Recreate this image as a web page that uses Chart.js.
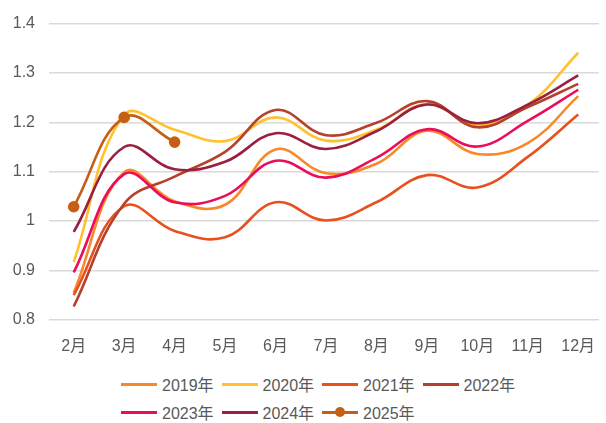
<!DOCTYPE html>
<html>
<head>
<meta charset="utf-8">
<script src="https://cdn.jsdelivr.net/npm/chart.js@4.4.1/dist/chart.umd.min.js"></script>
<style>
  html, body { margin: 0; padding: 0; background: #fff; }
  body { width: 606px; height: 423px; position: relative; overflow: hidden;
         font-family: "Liberation Sans", "Noto Sans CJK SC", sans-serif; }
  #wrap { position: absolute; left: 0; top: 0; width: 606px; height: 365px; }
  #legend { position: absolute; left: 121px; top: 373px; width: 420px;
            display: grid; grid-template-columns: repeat(4, 100.5px); row-gap: 6px; }
  .lg { display: flex; align-items: center; height: 22px; font-size: 16px; color: #595959; white-space: nowrap; }
  .lg .sw { position: relative; width: 36px; height: 3px; margin-right: 5px; flex: none; }
  .lg .sw i { position: absolute; left: 13px; top: -3.5px; width: 10px; height: 10px; border-radius: 50%; }
</style>
</head>
<body>
<div id="wrap"><canvas id="chart"></canvas></div>
<div id="legend"></div>
<script>
// ---- data ----
const months = ['2月', '3月', '4月', '5月', '6月', '7月', '8月', '9月', '10月', '11月', '12月'];
const yTicks = [0.8, 0.9, 1.0, 1.1, 1.2, 1.3, 1.4];

const y2019 = [0.855, 1.099, 1.040, 1.033, 1.145, 1.097, 1.116, 1.183, 1.136, 1.158, 1.253];
const y2020 = [0.917, 1.215, 1.185, 1.162, 1.210, 1.163, 1.185, 1.237, 1.194, 1.235, 1.341];
const y2021 = [0.850, 1.030, 0.980, 0.967, 1.038, 1.001, 1.038, 1.093, 1.068, 1.130, 1.216];
const y2022 = [0.827, 1.035, 1.090, 1.140, 1.225, 1.174, 1.199, 1.243, 1.190, 1.231, 1.278];
const y2023 = [0.896, 1.095, 1.038, 1.051, 1.122, 1.088, 1.128, 1.186, 1.151, 1.203, 1.266];
const y2024 = [0.978, 1.150, 1.105, 1.120, 1.178, 1.146, 1.182, 1.236, 1.198, 1.236, 1.295];
const y2025 = [1.029, 1.210, 1.160];

const seriesNames = ['2019年', '2020年', '2021年', '2022年', '2023年', '2024年', '2025年'];
const seriesData = [y2019, y2020, y2021, y2022, y2023, y2024, y2025];
const seriesColors = ['#F7892B', '#FFC12E', '#E8501E', '#B5412C', '#EC0C5C', '#9B2040', '#C65E14'];

// ---- chart ----
const FONT = '"Liberation Sans", "Noto Sans CJK SC", sans-serif';
const TXT = '#595959';

const datasets = seriesData.map((vals, i) => {
  const hasDots = i === seriesData.length - 1;
  return {
    label: seriesNames[i],
    data: vals.map((v, k) => ({ x: k, y: v })),
    borderColor: seriesColors[i],
    backgroundColor: seriesColors[i],
    borderWidth: 2.6,
    tension: 0.4,
    pointRadius: hasDots ? 4.5 : 0,
    pointHoverRadius: hasDots ? 4.5 : 0,
    order: seriesData.length - i
  };
});

new Chart(document.getElementById('chart'), {
  type: 'line',
  data: { datasets },
  options: {
    responsive: true,
    maintainAspectRatio: false,
    animation: false,
    layout: { padding: { top: 11, right: 0, left: 0, bottom: 0 } },
    plugins: { legend: { display: false }, tooltip: { enabled: false } },
    scales: {
      x: {
        type: 'linear',
        min: -0.49,
        max: 10.41,
        afterBuildTicks: s => { s.ticks = months.map((m, k) => ({ value: k })); },
        grid: { display: false },
        border: { display: false },
        ticks: {
          padding: 9,
          color: TXT,
          font: { family: FONT, size: 16 },
          autoSkip: false,
          maxRotation: 0,
          callback: v => months[v]
        }
      },
      y: {
        min: 0.8,
        max: 1.4,
        afterBuildTicks: s => { s.ticks = yTicks.map(v => ({ value: v })); },
        afterFit: s => { s.width = 49; },
        grid: { color: '#D9D9D9', lineWidth: 1.5, drawTicks: false },
        border: { display: false },
        ticks: {
          padding: 14,
          color: TXT,
          font: { family: FONT, size: 16 },
          callback: v => String(Number(v.toFixed(1)))
        }
      }
    }
  }
});

// ---- legend ----
document.getElementById('legend').innerHTML = seriesNames.map((n, i) => `
  <div class="lg">
    <span class="sw" style="background:${seriesColors[i]}">${i === seriesNames.length - 1 ? `<i style="background:${seriesColors[i]}"></i>` : ''}</span>${n}
  </div>`).join('');
</script>
</body>
</html>
